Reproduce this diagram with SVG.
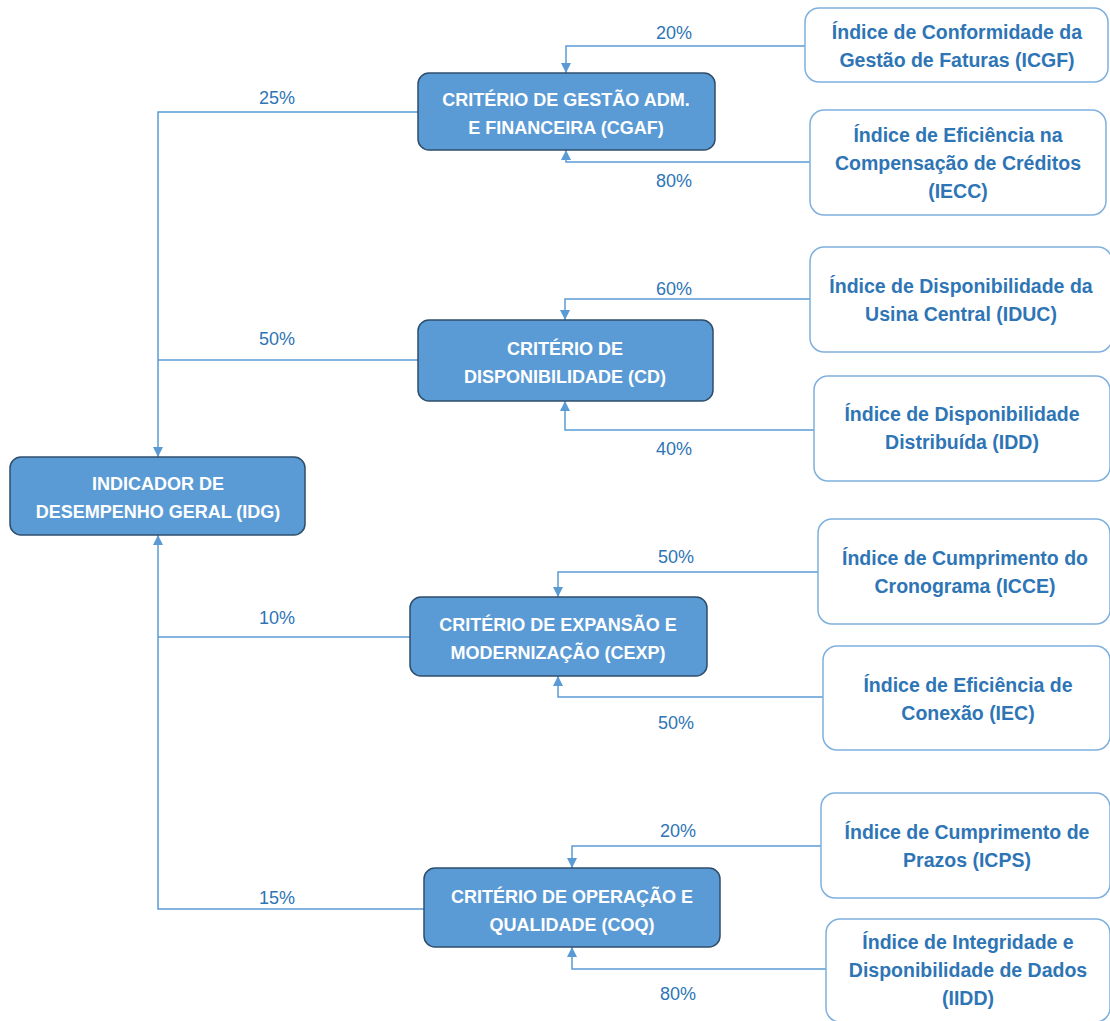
<svg xmlns="http://www.w3.org/2000/svg" width="1110" height="1021" viewBox="0 0 1110 1021">
<defs>
<marker id="ah" viewBox="0 0 10 10" refX="10" refY="5" markerWidth="10" markerHeight="10" markerUnits="userSpaceOnUse" orient="auto">
<path d="M0,0 L10,5 L0,10 Z" fill="#5b9bd5"/>
</marker>
<style>
.crit rect{fill:#5b9bd5;stroke:#2f4d6b;stroke-width:1.5}
.crit text{fill:#ffffff;font-family:"Liberation Sans Narrow","Liberation Sans",Arial,sans-serif;font-weight:bold;font-size:18px;text-anchor:middle}
.idx rect{fill:#ffffff;stroke:#7fb0de;stroke-width:1.5}
.idx text{fill:#2e75b6;font-family:"Liberation Sans Narrow","Liberation Sans",Arial,sans-serif;font-weight:bold;font-size:19.5px;text-anchor:middle}
.conn path{fill:none;stroke:#5b9bd5;stroke-width:1.5;marker-end:url(#ah)}
.conn path.plain{marker-end:none}
.lbl{fill:#2e75b6;font-family:"Liberation Sans Narrow","Liberation Sans",Arial,sans-serif;font-size:18px;text-anchor:middle}
</style>
</defs>
<rect width="1110" height="1021" fill="#ffffff"/>
<g class="conn" id="connectors">
<path d="M418,112 H158 V457"/>
<path class="plain" d="M418,360 H158"/>
<path d="M424,909 H158 V535"/>
<path class="plain" d="M410,637 H158"/>
<path d="M805,46 H566 V73"/>
<path d="M810,162 H566 V150"/>
<path d="M810,299 H565 V320"/>
<path d="M814,430 H565 V401"/>
<path d="M818,572 H558 V597"/>
<path d="M823,697 H558 V676"/>
<path d="M821,846 H572 V868"/>
<path d="M826,969 H572 V947"/>
</g>
<g id="labels">
<text class="lbl" x="277" y="104">25%</text>
<text class="lbl" x="277" y="345">50%</text>
<text class="lbl" x="277" y="624">10%</text>
<text class="lbl" x="277" y="904">15%</text>
<text class="lbl" x="674" y="39">20%</text>
<text class="lbl" x="674" y="187">80%</text>
<text class="lbl" x="674" y="295">60%</text>
<text class="lbl" x="674" y="455">40%</text>
<text class="lbl" x="676" y="563">50%</text>
<text class="lbl" x="676" y="729">50%</text>
<text class="lbl" x="678" y="837">20%</text>
<text class="lbl" x="678" y="1000">80%</text>
</g>
<g class="crit" id="IDG"><rect x="10" y="457" width="295" height="78" rx="11"/><text x="158" y="490">INDICADOR DE</text><text x="158" y="518">DESEMPENHO GERAL (IDG)</text></g>
<g class="crit" id="CGAF"><rect x="418" y="73" width="297" height="77" rx="11"/><text x="566" y="106">CRITÉRIO DE GESTÃO ADM.</text><text x="566" y="134">E FINANCEIRA (CGAF)</text></g>
<g class="crit" id="CD"><rect x="418" y="320" width="295" height="81" rx="11"/><text x="565" y="355">CRITÉRIO DE</text><text x="565" y="383">DISPONIBILIDADE (CD)</text></g>
<g class="crit" id="CEXP"><rect x="410" y="597" width="297" height="79" rx="11"/><text x="558" y="631">CRITÉRIO DE EXPANSÃO E</text><text x="558" y="659">MODERNIZAÇÃO (CEXP)</text></g>
<g class="crit" id="COQ"><rect x="424" y="868" width="296" height="79" rx="11"/><text x="572" y="903">CRITÉRIO DE OPERAÇÃO E</text><text x="572" y="931">QUALIDADE (COQ)</text></g>
<g class="idx" id="ICGF"><rect x="805" y="8" width="303" height="74" rx="14"/><text x="957" y="39">Índice de Conformidade da</text><text x="957" y="67">Gestão de Faturas (ICGF)</text></g>
<g class="idx" id="IECC"><rect x="810" y="110" width="296" height="105" rx="14"/><text x="958" y="142">Índice de Eficiência na</text><text x="958" y="170">Compensação de Créditos</text><text x="958" y="198">(IECC)</text></g>
<g class="idx" id="IDUC"><rect x="810" y="247" width="302" height="105" rx="14"/><text x="961" y="293">Índice de Disponibilidade da</text><text x="961" y="321">Usina Central (IDUC)</text></g>
<g class="idx" id="IDD"><rect x="814" y="376" width="296" height="105" rx="14"/><text x="962" y="421">Índice de Disponibilidade</text><text x="962" y="449">Distribuída (IDD)</text></g>
<g class="idx" id="ICCE"><rect x="818" y="519" width="292" height="105" rx="14"/><text x="965" y="565">Índice de Cumprimento do</text><text x="965" y="593">Cronograma (ICCE)</text></g>
<g class="idx" id="IEC"><rect x="823" y="646" width="287" height="104" rx="14"/><text x="968" y="692">Índice de Eficiência de</text><text x="968" y="720">Conexão (IEC)</text></g>
<g class="idx" id="ICPS"><rect x="821" y="793" width="289" height="105" rx="14"/><text x="967" y="839">Índice de Cumprimento de</text><text x="967" y="867">Prazos (ICPS)</text></g>
<g class="idx" id="IIDD"><rect x="826" y="919" width="284" height="103" rx="14"/><text x="968" y="949">Índice de Integridade e</text><text x="968" y="977">Disponibilidade de Dados</text><text x="968" y="1005">(IIDD)</text></g>
</svg>
